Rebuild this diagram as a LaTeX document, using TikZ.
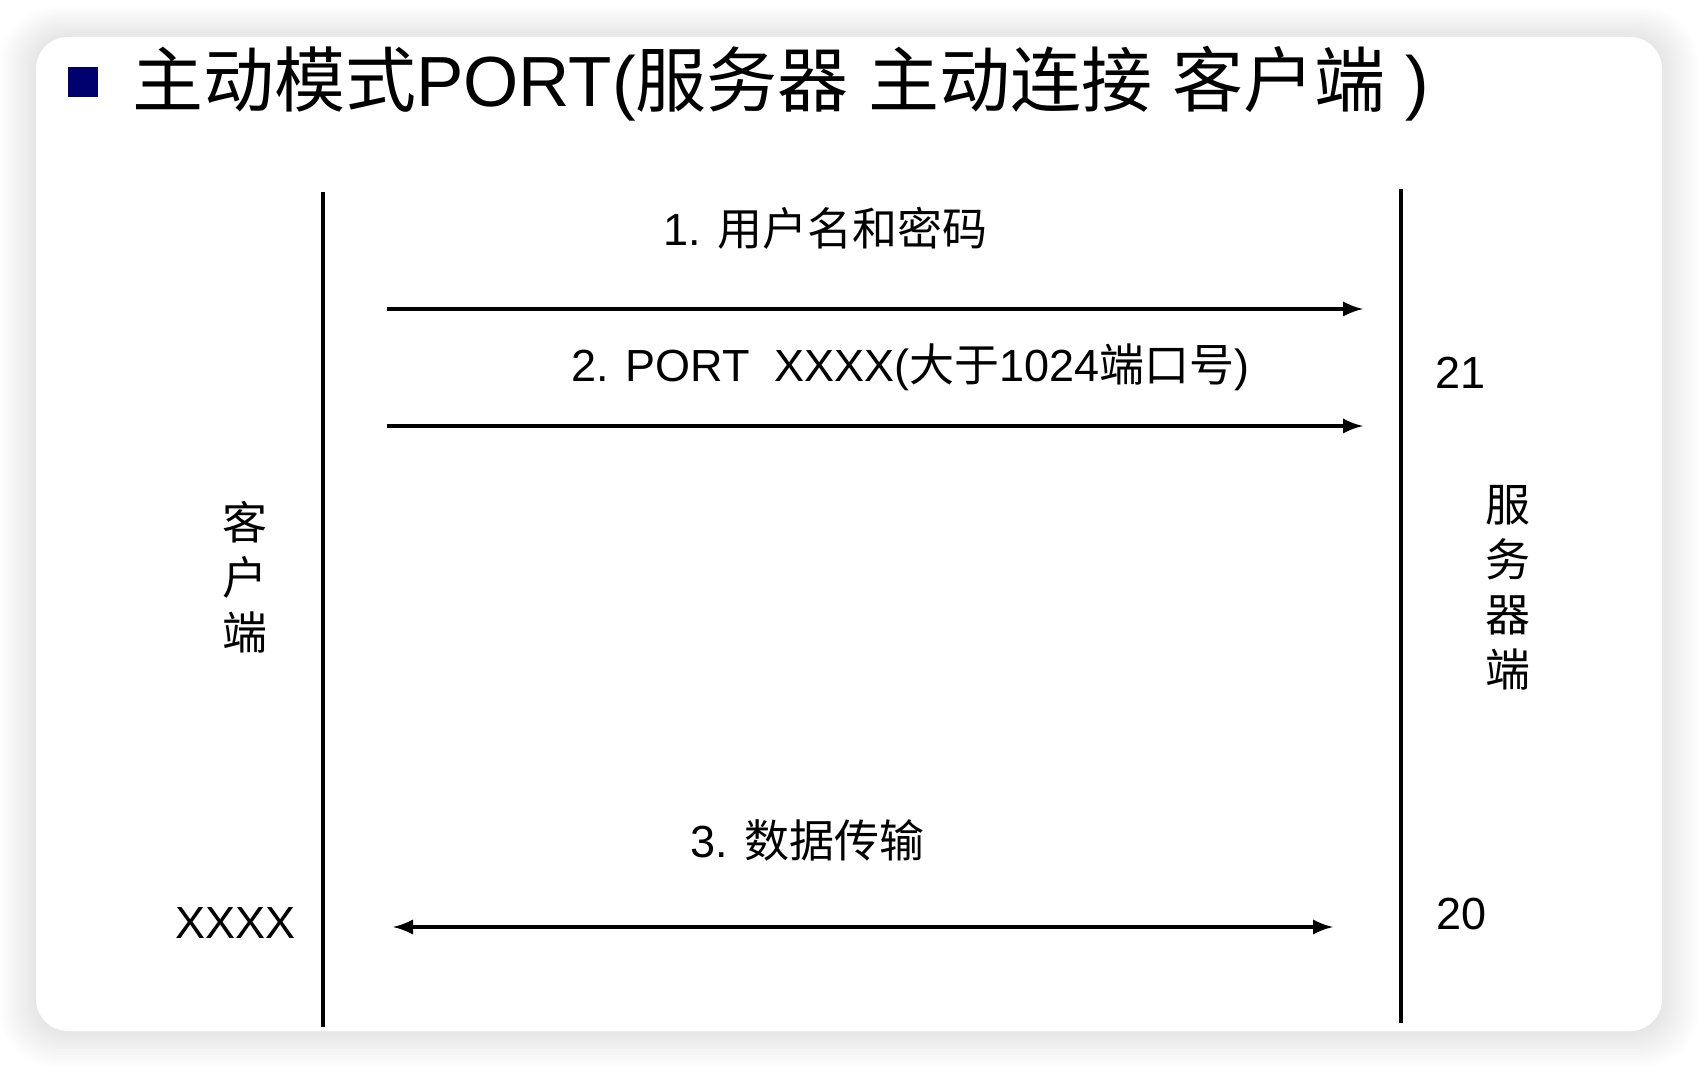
\documentclass[tikz,border=0pt]{standalone}
\usepackage{fontspec}
\setmainfont{Liberation Sans}
\newfontfamily\cjk{Noto Sans CJK SC}
\definecolor{bleunuit}{RGB}{0,0,110}

\begin{document}
\begin{tikzpicture}[x=0.5pt,y=-0.5pt]
% Styles (MODIFIABLES)
\tikzstyle{fleche}=[->,>=latex,line width=2.4pt]
\tikzstyle{doublefleche}=[<->,>=latex,line width=2.4pt]
\tikzstyle{ligne}=[line width=2.2pt]
\tikzstyle{carte}=[fill=white,rounded corners=16pt]
\tikzstyle{puce}=[fill=bleunuit,minimum size=15pt,inner sep=0pt]
\tikzstyle{titre}=[inner sep=0pt,font=\fontsize{35.5}{42}\selectfont]
\tikzstyle{etiquette}=[inner sep=0pt,font=\fontsize{22.5}{27.5}\selectfont]
\tikzstyle{vertical}=[inner sep=0pt,align=center,font=\fontsize{22.5}{27.5}\selectfont\cjk]
% Dimensions (MODIFIABLES)
\def\XClient{323}
\def\XServeur{1401}
\def\XDebut{387}
\def\XFin{1363}
% Cadre
\useasboundingbox (0,0) rectangle (1698,1068);
\foreach \i in {1,...,12}
  \fill[black,opacity=0.009,rounded corners={16pt+\i*1pt}]
    ({36-\i*3},{37-\i*2.5}) rectangle ({1662+\i*3},{1031+\i*3});
\fill[carte] (36,37) rectangle (1662,1031);
% Titre
\node[puce] (Puce) at (83,82) {};
\node[titre,anchor=base west] (Titre) at (132,107)
  {{\cjk 主动模式}PORT({\cjk 服务器} {\cjk 主动连接} {\cjk 客户端} )};
% Noeuds
\coordinate (Chaut) at (\XClient,192);
\coordinate (Cbas) at (\XClient,1027);
\coordinate (Shaut) at (\XServeur,189);
\coordinate (Sbas) at (\XServeur,1023);
\coordinate (A1g) at (\XDebut,309);
\coordinate (A1d) at (\XFin,309);
\coordinate (A2g) at (\XDebut,426);
\coordinate (A2d) at (\XFin,426);
\coordinate (A3g) at (393,927);
\coordinate (A3d) at (1333,927);
\node[etiquette,anchor=base west] (E1) at (663,246) {1. {\cjk 用户名和密码}};
\node[etiquette,anchor=base west] (E2) at (571,382) {2. PORT\ \ XXXX({\cjk 大于}1024{\cjk 端口号})};
\node[etiquette,anchor=base west] (E3) at (690,858) {3. {\cjk 数据传输}};
\node[etiquette,anchor=base east] (PortX) at (296,938) {XXXX};
\node[etiquette,anchor=base west] (Port21) at (1435,389) {21};
\node[etiquette,anchor=base west] (Port20) at (1436,929) {20};
\node[vertical] (Client) at (245,577) {客\\户\\端};
\node[vertical] (Serveur) at (1508,588) {服\\务\\器\\端};
% Arcs (MODIFIABLES : Styles)
\draw[ligne] (Chaut)--(Cbas);
\draw[ligne] (Shaut)--(Sbas);
\draw[fleche] (A1g)--(A1d);
\draw[fleche] (A2g)--(A2d);
\draw[doublefleche] (A3g)--(A3d);
\end{tikzpicture}
\end{document}
